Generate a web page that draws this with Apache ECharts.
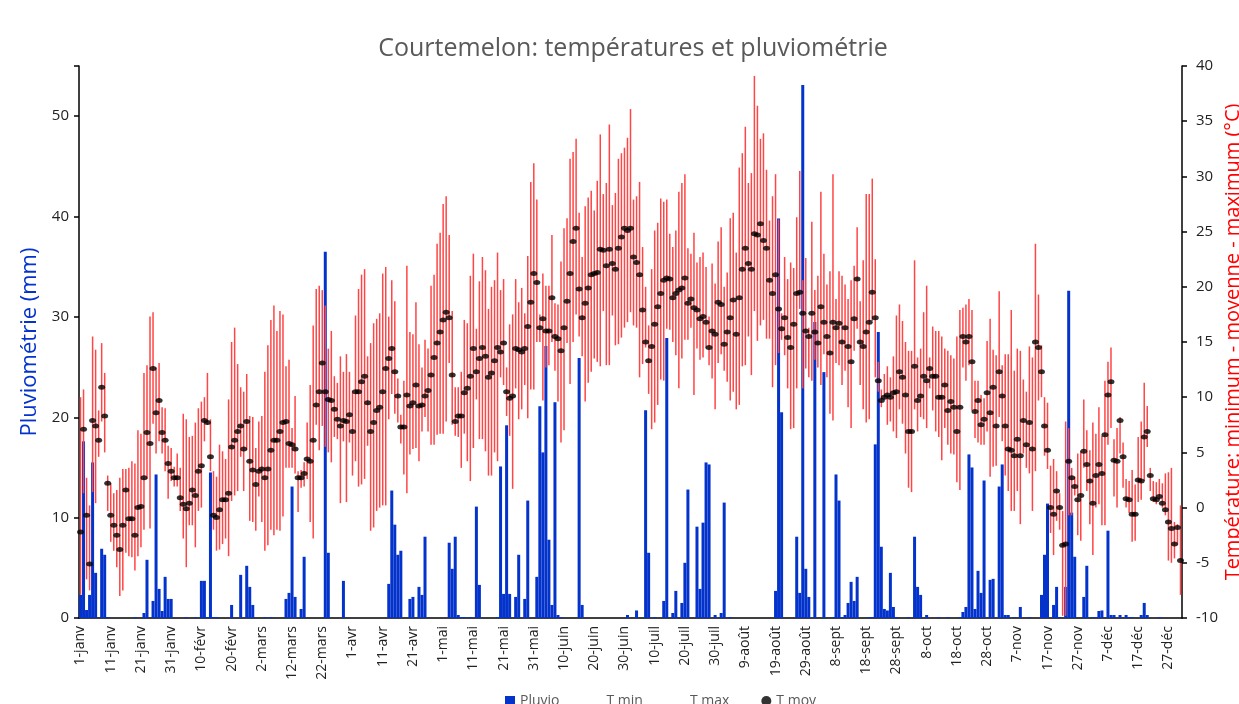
<!DOCTYPE html>
<html>
<head>
<meta charset="utf-8">
<title>Courtemelon</title>
<script src="https://cdn.jsdelivr.net/npm/echarts@6/dist/echarts.min.js"></script>
<style>
  html, body { margin: 0; padding: 0; background: #fff; }
  #chart { width: 1239px; height: 704px; }
</style>
</head>
<body>
<div id="chart"></div>
<script>
// jours de l'année (non bissextile), étiquettes "1-janv" ...
const monthNames = ['janv', 'févr', 'mars', 'avr', 'mai', 'juin', 'juil', 'août', 'sept', 'oct', 'nov', 'déc']
const monthDays = [31, 28, 31, 30, 31, 30, 31, 31, 30, 31, 30, 31]
const days = []
monthNames.forEach((m, i) => {
  for (let d = 1; d <= monthDays[i]; d++) days.push(d + '-' + m)
})

// pluviométrie journalière (mm)
const pluvio = [
  2.3, 17.6, 0.8, 2.3, 15.5, 4.5, 0, 6.9, 6.3, 0.1,
  0, 0, 0, 0, 0, 0, 0, 0, 0.1, 0,
  0, 0.5, 5.8, 0, 1.7, 14.3, 2.9, 0.7, 4.1, 1.9,
  1.9, 0, 0, 0, 0, 0.1, 0, 0, 0.1, 0,
  3.7, 3.7, 0.1, 14.5, 0.1, 0.1, 0, 0, 0, 0,
  1.3, 0, 0, 4.3, 0, 5.2, 3.1, 1.3, 0, 0,
  0, 0.1, 0, 0.1, 0, 0, 0, 0, 1.9, 2.5,
  13.1, 2.1, 0, 0.9, 6.1, 0, 0, 0, 0, 0,
  0, 36.5, 6.5, 0, 0, 0, 0, 3.7, 0, 0,
  0, 0, 0, 0, 0, 0, 0, 0, 0, 0,
  0, 0, 3.4, 12.7, 9.3, 6.3, 6.7, 0, 0, 1.9,
  2.1, 0, 3.1, 2.3, 8.1, 0, 0, 0, 0, 0,
  0, 0, 7.5, 4.9, 8.1, 0.3, 0.1, 0.1, 0, 0.1,
  0, 11.1, 3.3, 0, 0, 0, 0, 0, 0.1, 15.1,
  2.4, 19.2, 2.4, 0, 2.1, 6.3, 0, 1.9, 11.7, 0,
  0, 4.1, 21.1, 16.5, 27.1, 7.8, 1.3, 21.5, 0.3, 0.1,
  0, 0, 0, 0, 0, 25.9, 1.3, 0, 0, 0,
  0, 0, 0, 0, 0, 0, 0, 0, 0, 0,
  0, 0.3, 0, 0, 0.75, 0, 0, 20.7, 6.5, 0,
  0.1, 0, 0, 1.7, 27.9, 0, 0.5, 2.7, 0, 1.5,
  5.5, 12.8, 0, 0, 9.1, 2.9, 9.5, 15.5, 15.3, 0,
  0.3, 0, 0.5, 11.5, 0, 0.1, 0, 0, 0, 0,
  0, 0, 0, 0, 0, 0, 0, 0, 0, 0,
  2.7, 39.8, 20.5, 0, 0, 0, 0, 8.1, 2.5, 53.1,
  4.9, 2.1, 0, 29.5, 0, 0, 24.5, 0, 0, 0.1,
  14.3, 11.7, 0.1, 0.3, 1.5, 3.6, 1.7, 4.1, 0, 0,
  0, 0.1, 0.1, 17.3, 28.5, 7.1, 0.9, 0.75, 4.5, 1.1,
  0.1, 0, 0, 0, 0.1, 0, 8.1, 3.1, 2.3, 0,
  0.3, 0, 0, 0, 0.1, 0, 0, 0.1, 0, 0,
  0, 0.1, 0.6, 1.1, 16.3, 15.0, 0.9, 4.7, 2.5, 13.7,
  0, 3.8, 3.9, 0, 13.1, 15.3, 0.3, 0.3, 0, 0.1,
  0, 1.1, 0, 0, 0.1, 0, 0, 0, 2.3, 6.3,
  11.4, 0, 1.3, 3.1, 0.1, 0, 3.1, 32.6, 10.5, 6.1,
  0, 0, 2.1, 5.2, 0, 0.1, 0.1, 0.7, 0.75, 0,
  8.7, 0.3, 0.3, 0, 0.3, 0, 0.3, 0.1, 0.1, 0,
  0, 0.3, 1.5, 0.3, 0, 0, 0, 0.1, 0, 0,
  0, 0, 0, 0, 0
]

// température minimale (°C)
const tMin = [
  -7.9, 1.3, -6.5, -7.5, 1.4, 0.4, 4.6, 7.8, 5.0, -0.3,
  -3.1, -3.9, -5.4, -8.0, -7.5, -4.1, -4.4, -4.5, -5.7, -4.4,
  -3.6, -2.0, 2.6, -1.9, 7.6, 4.9, 6.0, 4.9, 3.3, 0.8,
  2.4, 1.9, 1.9, -0.3, -2.8, -5.4, -1.6, -1.6, -3.6, -0.3,
  0.0, 6.0, 7.5, 3.3, -2.0, -3.9, -3.8, -3.3, -2.8, -4.4,
  0.6, 1.1, 1.5, 4.6, 1.5, 5.2, -1.2, -1.3, -2.1, 1.0,
  -1.3, -3.9, -3.4, -2.0, -2.5, -2.0, -2.1, -0.8, 3.6, 3.6,
  3.6, 3.1, -0.4, 1.8, 1.9, 2.6, -1.3, -2.8, 7.5, 5.2,
  7.4, 5.5, 5.0, 4.1, 6.4, 6.2, 0.4, 6.0, 0.5, 5.9,
  2.9, 4.2, 1.9, 2.1, 2.6, 5.6, -2.1, -1.8, -0.3, 0.0,
  0.2, 0.2, 8.0, 10.3, 8.5, 7.7, 5.8, 3.0, 1.3, 4.8,
  5.3, 5.4, 4.2, 6.9, 8.2, 6.9, 5.7, 5.7, 6.6, 6.7,
  6.7, 7.8, 13.1, 7.5, 6.5, 6.4, 3.6, 6.7, 4.2, 2.4,
  5.4, 9.8, 6.2, 6.2, 5.1, 2.9, 2.9, 5.0, 4.2, 11.8,
  11.1, 8.3, 6.5, 1.7, 10.8, 8.0, 8.9, 11.1, 8.1, 10.7,
  10.7, 15.0, 15.0, 9.7, 12.7, 12.9, 15.0, 12.4, 9.6, 5.9,
  7.0, 14.9, 11.2, 15.0, 17.5, 15.5, 13.7, 9.6, 11.3, 12.3,
  13.5, 13.2, 12.8, 17.8, 12.9, 12.9, 17.4, 14.7, 14.8, 15.4,
  16.3, 16.8, 17.7, 16.5, 16.3, 11.8, 13.0, 14.5, 10.3, 7.1,
  7.7, 9.3, 11.6, 11.5, 16.2, 16.1, 15.0, 13.8, 10.8, 13.5,
  15.2, 15.2, 16.3, 10.2, 14.4, 13.4, 13.6, 14.4, 12.9, 11.7,
  8.9, 13.1, 13.9, 12.4, 11.4, 9.7, 10.5, 8.9, 9.3, 12.8,
  12.9, 15.5, 12.0, 17.8, 15.1, 16.5, 17.0, 15.3, 15.3, 10.9,
  12.9, 14.0, 15.2, 13.8, 10.8, 7.1, 7.2, 10.8, 18.0, 10.8,
  12.6, 11.8, 11.5, 13.4, 12.7, 11.1, 13.9, 11.8, 8.5, 7.9,
  13.1, 12.9, 11.1, 12.4, 9.1, 7.2, 14.2, 16.2, 11.1, 8.9,
  7.7, 8.0, 16.9, 11.8, 10.5, 9.1, 9.8, 7.5, 7.8, 6.9,
  6.3, 8.9, 7.6, 4.9, 1.8, 1.4, 8.9, 6.9, 8.2, 8.0,
  7.2, 10.8, 8.8, 6.9, 6.4, 4.3, 7.2, 5.7, 4.9, 4.8,
  2.3, 1.6, 12.7, 11.5, 12.9, 8.8, 6.3, 5.9, 5.7, 5.7,
  6.9, 2.8, 3.7, 3.8, 8.2, 6.0, 2.9, 1.5, -0.3, -0.3,
  1.5, -1.5, 4.9, 3.6, 3.1, -0.3, 3.3, 9.7, 10.0, 4.7,
  3.5, -2.3, -4.3, -1.2, -2.0, -9.8, -9.8, -0.7, -0.7, 1.1,
  -2.5, -3.0, 3.6, 1.5, -1.5, -4.3, 0.0, 0.3, -1.6, -1.6,
  5.7, 7.2, 1.0, 0.0, 4.9, 1.8, 0.0, -0.5, -3.1, -3.0,
  0.5, 0.7, 2.4, 5.5, 1.5, 0.5, 0.3, 0.7, 0.0, -0.7,
  -4.8, -5.0, -4.6, -3.4, -7.9
]

// température maximale (°C)
const tMax = [
  10.0, 10.7, 2.7, 0.2, 15.5, 14.3, 8.8, 14.9, 12.2, 2.9,
  2.2, 1.3, 1.6, 2.7, 3.5, 3.5, 3.6, 4.2, 4.0, 7.0,
  6.7, 12.2, 12.9, 17.3, 17.7, 12.7, 13.1, 9.1, 9.0, 5.6,
  5.4, 3.7, 4.9, 3.6, 8.5, 8.0, 6.4, 6.5, 7.7, 9.0,
  9.6, 10.0, 12.2, 8.0, 3.3, 2.8, 5.7, 5.1, 4.4, 9.8,
  15.0, 16.3, 13.0, 10.9, 10.5, 12.1, 8.3, 8.2, 5.4, 7.8,
  8.3, 12.3, 14.7, 17.0, 18.3, 16.0, 17.8, 17.5, 12.8, 13.4,
  7.2, 10.1, 3.3, 3.4, 4.1, 7.7, 11.1, 16.5, 19.8, 20.1,
  19.7, 18.3, 14.4, 16.0, 11.9, 11.3, 13.7, 12.3, 13.9, 12.3,
  10.6, 17.4, 19.8, 21.1, 21.6, 13.7, 14.9, 16.7, 17.1, 17.6,
  21.2, 21.8, 17.3, 20.6, 18.7, 11.7, 8.4, 11.5, 21.9, 15.9,
  15.7, 18.6, 14.8, 12.7, 15.2, 14.4, 20.1, 21.1, 23.9, 24.9,
  27.5, 28.2, 24.7, 17.8, 10.9, 10.9, 12.3, 17.0, 16.7, 21.0,
  23.0, 16.2, 20.5, 22.7, 21.5, 18.0, 20.0, 20.6, 23.1, 19.7,
  20.7, 12.7, 16.6, 17.5, 20.7, 18.6, 19.9, 17.6, 22.8, 29.5,
  31.2, 27.9, 17.5, 21.2, 20.1, 20.1, 24.7, 18.5, 18.4, 22.3,
  25.3, 26.2, 31.6, 32.2, 33.4, 26.7, 22.7, 27.3, 28.1, 28.7,
  26.9, 29.6, 33.8, 28.4, 29.4, 34.7, 27.4, 28.5, 31.6, 32.1,
  32.6, 33.5, 36.1, 27.9, 28.2, 29.5, 23.6, 20.0, 16.5, 21.6,
  25.1, 25.8, 28.0, 27.7, 27.9, 24.8, 23.6, 25.1, 28.6, 29.4,
  30.2, 23.5, 23.0, 24.9, 22.2, 22.7, 23.1, 21.8, 17.3, 22.1,
  20.3, 24.1, 25.4, 20.0, 21.3, 26.2, 26.7, 23.1, 30.8, 32.1,
  34.5, 29.4, 30.3, 39.1, 36.4, 33.4, 33.9, 30.6, 26.0, 28.2,
  30.2, 26.1, 17.6, 22.7, 20.7, 22.2, 21.7, 26.3, 30.5, 20.6,
  22.6, 16.3, 25.9, 19.7, 21.0, 28.6, 23.0, 20.2, 21.4, 30.2,
  18.9, 21.4, 21.0, 20.2, 18.9, 20.6, 21.9, 25.4, 18.7, 22.4,
  28.4, 28.4, 29.8, 22.5, 13.2, 10.7, 12.1, 12.8, 11.8, 13.7,
  17.4, 18.4, 16.9, 15.0, 14.2, 14.2, 22.4, 13.6, 14.4, 17.7,
  20.1, 13.6, 16.4, 16.0, 16.0, 15.5, 14.4, 14.2, 13.8, 13.5,
  15.5, 17.9, 18.1, 18.4, 18.9, 17.9, 11.5, 11.5, 10.2, 9.9,
  15.1, 17.1, 14.3, 13.8, 19.6, 12.9, 13.9, 13.9, 17.9, 12.4,
  14.4, 14.2, 11.6, 10.5, 14.6, 13.6, 23.9, 19.3, 14.7, 10.0,
  9.5, 3.8, 4.4, 3.3, 1.3, -0.3, 7.8, 7.2, 3.6, 2.8,
  4.9, 5.1, 9.8, 7.0, 5.2, 7.7, 6.7, 9.1, 6.5, 11.5,
  13.2, 14.5, 6.2, 7.2, 8.2, 5.9, 2.6, 2.4, 3.4, 2.1,
  6.4, 7.8, 11.3, 9.2, 3.6, 2.4, 2.3, 2.6, 2.2, 3.1,
  3.2, 3.6, -1.3, -1.5, 0.2
]

// température moyenne (°C)
const tMoy = [
  -2.2, 7.1, -0.7, -5.1, 7.9, 7.4, 6.1, 10.9, 8.3, 2.2,
  -0.7, -1.6, -2.5, -3.8, -1.6, 1.6, -1.0, -1.0, -2.5, 0.0,
  0.1, 2.7, 6.8, 5.8, 12.6, 8.6, 9.7, 6.8, 6.1, 4.0,
  3.3, 2.7, 2.7, 0.9, 0.3, -0.1, 0.4, 1.6, 1.1, 3.3,
  3.8, 7.9, 7.7, 4.6, -0.7, -0.9, -0.2, 0.7, 0.7, 1.3,
  5.5, 6.1, 6.9, 7.4, 5.3, 7.8, 4.2, 3.4, 2.1, 3.3,
  3.5, 2.7, 3.5, 5.2, 6.1, 6.1, 6.9, 7.7, 7.8, 5.8,
  5.7, 5.3, 2.7, 2.7, 3.1, 4.4, 4.2, 6.1, 9.3, 10.5,
  13.1, 10.5, 9.8, 9.7, 8.9, 8.0, 7.4, 7.9, 7.8, 8.4,
  6.9, 10.5, 10.5, 11.4, 11.9, 9.5, 6.9, 7.7, 8.8, 9.1,
  10.5, 12.6, 13.5, 14.4, 12.3, 10.1, 7.3, 7.3, 10.2, 9.2,
  9.5, 11.1, 9.2, 9.3, 10.1, 10.6, 12.0, 13.6, 14.9, 15.9,
  17.0, 17.7, 17.2, 12.0, 7.8, 8.3, 8.3, 10.4, 10.8, 11.9,
  14.4, 12.3, 13.5, 14.5, 13.7, 11.8, 12.2, 13.3, 14.5, 14.1,
  14.9, 10.5, 9.9, 10.1, 14.4, 14.3, 14.1, 14.4, 16.4, 18.6,
  21.2, 20.4, 16.3, 17.1, 16.0, 16.0, 19.0, 15.5, 15.3, 14.2,
  16.3, 18.7, 21.2, 24.1, 25.3, 19.8, 17.2, 18.5, 19.9, 21.1,
  21.2, 21.3, 23.4, 23.3, 21.9, 23.4, 22.1, 21.6, 23.5, 24.5,
  25.3, 25.1, 25.3, 22.7, 22.2, 21.1, 17.9, 15.0, 13.3, 14.6,
  16.6, 18.2, 19.4, 20.6, 20.8, 20.7, 19.0, 19.4, 19.7, 19.9,
  20.8, 18.5, 18.9, 18.1, 17.9, 17.1, 17.3, 16.8, 14.5, 16.0,
  15.7, 18.6, 18.4, 14.8, 15.9, 17.2, 18.8, 15.7, 19.0, 21.6,
  23.5, 22.1, 21.6, 24.8, 24.7, 25.7, 24.2, 23.5, 20.6, 19.4,
  21.1, 18.0, 16.2, 17.2, 15.4, 14.5, 16.6, 19.4, 19.5, 17.6,
  16.0, 15.5, 17.6, 15.9, 14.9, 18.2, 16.8, 15.5, 14.0, 16.8,
  16.3, 16.7, 15.0, 16.3, 14.6, 13.2, 17.1, 20.7, 15.0, 14.6,
  15.9, 16.8, 19.5, 17.2, 11.5, 9.7, 10.0, 10.2, 10.0, 10.4,
  10.5, 12.3, 11.8, 10.2, 6.9, 6.9, 12.8, 9.7, 10.1, 11.9,
  11.5, 12.6, 11.9, 11.9, 10.0, 10.0, 11.1, 8.8, 9.6, 9.1,
  6.9, 9.1, 15.5, 15.0, 15.5, 13.2, 8.7, 9.7, 7.5, 8.0,
  10.4, 8.6, 10.9, 7.4, 12.3, 10.1, 7.4, 5.3, 5.2, 4.7,
  6.2, 4.7, 7.9, 5.7, 7.7, 5.3, 15.0, 14.5, 12.3, 7.4,
  5.2, 0.0, -0.6, 1.5, 0.0, -3.4, -3.3, 4.2, 2.7, 1.9,
  0.7, 1.1, 5.1, 3.9, 2.4, 0.4, 2.9, 3.9, 3.1, 6.6,
  10.2, 11.4, 4.3, 4.2, 7.9, 4.6, 0.8, 0.7, -0.6, -0.6,
  2.5, 2.4, 6.4, 6.9, 2.9, 0.8, 0.7, 1.0, 0.4, -0.2,
  -1.3, -1.9, -3.3, -1.8, -4.8
]

const font = "'Open Sans', 'DejaVu Sans', sans-serif"
const blue = '#0433cc'
const red = '#ff4545'

const chart = echarts.init(document.getElementById('chart'))

// trait vertical entre deux valeurs de température du même jour
const renderRange = (params, api) => {
  const a = api.coord([api.value(0), api.value(1)])
  const b = api.coord([api.value(0), api.value(2)])
  return {
    type: 'line',
    shape: { x1: a[0], y1: a[1], x2: b[0], y2: b[1] },
    style: { stroke: red, lineWidth: 1.5 }
  }
}

const option = {
  animation: false,
  backgroundColor: '#fff',
  textStyle: { fontFamily: font },
  title: {
    text: 'Courtemelon: températures et pluviométrie',
    left: 628,
    top: 31,
    textAlign: 'center',
    textStyle: { color: '#595959', fontSize: 25, fontWeight: 'normal', fontFamily: font }
  },
  legend: {
    top: 689,
    left: 500,
    itemGap: 32,
    itemWidth: 10,
    itemHeight: 10,
    textStyle: { color: '#595959', fontSize: 14, fontFamily: font },
    data: [
      { name: 'Pluvio', icon: 'rect', itemStyle: { color: blue } },
      { name: 'T min', icon: 'rect', itemStyle: { color: 'rgba(0,0,0,0)' } },
      { name: 'T max', icon: 'rect', itemStyle: { color: 'rgba(0,0,0,0)' } },
      { name: 'T moy', icon: 'circle', itemStyle: { color: '#000' } }
    ]
  },
  grid: { left: 79, right: 57, top: 66, bottom: 86, outerBoundsMode: 'none' },
  xAxis: {
    type: 'category',
    data: days,
    boundaryGap: true,
    axisLine: { lineStyle: { color: '#000', width: 1.5 } },
    axisTick: { interval: 9, length: 5, lineStyle: { color: '#000', width: 1.5 } },
    axisLabel: {
      interval: 9, rotate: 90, fontSize: 14, color: '#222', margin: 8,
      padding: [7, 0, 0, 0], fontFamily: font
    },
    splitLine: { show: false }
  },
  yAxis: [
    {
      type: 'value',
      min: 0,
      max: 55,
      interval: 10,
      name: 'Pluviométrie (mm)',
      nameLocation: 'middle',
      nameRotate: 90,
      nameGap: 34,
      nameTextStyle: { color: blue, fontSize: 22, fontFamily: font },
      axisLine: { show: true, lineStyle: { color: '#000', width: 1.5 } },
      axisTick: { show: true, length: 5, lineStyle: { color: '#000', width: 1.5 } },
      axisLabel: { fontSize: 15, color: '#222', margin: 10, formatter: v => (v % 10 === 0 ? v : '') },
      splitLine: { show: false }
    },
    {
      type: 'value',
      position: 'right',
      min: -10,
      max: 40,
      interval: 5,
      name: 'Température: minimum - moyenne - maximum (°C)',
      nameLocation: 'middle',
      nameRotate: 90,
      nameGap: 41,
      nameMoveOverlap: false,
      nameTextStyle: { color: '#ff0000', fontSize: 20, fontFamily: font },
      axisLine: { show: true, lineStyle: { color: '#000', width: 1.5 } },
      axisTick: { show: true, length: 5, lineStyle: { color: '#000', width: 1.5 } },
      axisLabel: { fontSize: 15, color: '#222', margin: 14 },
      splitLine: { show: false }
    }
  ],
  series: [
    {
      name: 'Pluvio',
      type: 'bar',
      yAxisIndex: 0,
      data: pluvio,
      barWidth: 3,
      itemStyle: { color: blue },
      z: 2
    },
    {
      name: 'T min',
      type: 'custom',
      yAxisIndex: 1,
      renderItem: renderRange,
      encode: { x: 0, y: [1, 2] },
      data: tMin.map((v, i) => [i, v, tMoy[i]]),
      itemStyle: { color: red },
      z: 3
    },
    {
      name: 'T max',
      type: 'custom',
      yAxisIndex: 1,
      renderItem: renderRange,
      encode: { x: 0, y: [1, 2] },
      data: tMoy.map((v, i) => [i, v, tMax[i]]),
      itemStyle: { color: red },
      z: 3
    },
    {
      name: 'T moy',
      type: 'scatter',
      yAxisIndex: 1,
      data: tMoy,
      symbol: 'circle',
      symbolSize: [7, 5],
      itemStyle: { color: '#000' },
      z: 4
    }
  ]
}

chart.setOption(option)
window.addEventListener('resize', () => chart.resize())
</script>
</body>
</html>
